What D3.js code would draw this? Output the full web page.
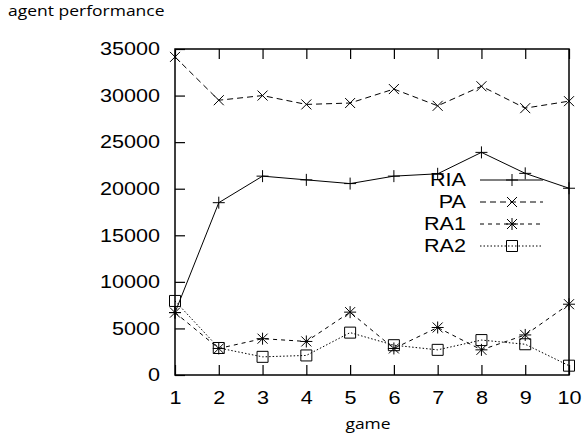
<!DOCTYPE html>
<html>
<head>
<meta charset="utf-8">
<script src="https://cdn.jsdelivr.net/npm/d3@7"></script>
<style>
  body { margin: 0; background: #fff; }
  svg { display: block; }
</style>
</head>
<body>
<div id="chart"></div>
<script>
// data
var games = [1, 2, 3, 4, 5, 6, 7, 8, 9, 10];
var ria = [6700, 18500, 21350, 20950, 20550, 21350, 21600, 23900, 21650, 20050];
var pa  = [34150, 29500, 30000, 29050, 29200, 30700, 28900, 31000, 28650, 29400];
var ra1 = [6700, 2850, 3900, 3600, 6750, 2850, 5100, 2700, 4300, 7600];
var ra2 = [7950, 2900, 1950, 2100, 4550, 3200, 2700, 3750, 3300, 1000];
var seriesNames = ["RIA", "PA", "RA1", "RA2"];
var yTicks = [0, 5000, 10000, 15000, 20000, 25000, 30000, 35000];

var width = 584, height = 436;
var margin = {top: 49, right: 15, bottom: 61, left: 175};
var stretch = "scale(1.2,1)";   // gnuplot text looks wider than the font

var svg = d3.select("#chart").append("svg")
    .attr("width", width)
    .attr("height", height);

var x = d3.scaleLinear()
    .domain([1, 10])
    .range([margin.left, width - margin.right]);
var y = d3.scaleLinear()
    .domain([0, 35000])
    .range([height - margin.bottom, margin.top]);

//markers, all drawn round 0,0
function marker(kind) {
  var p = d3.path();
  if (kind == "plus" || kind == "star") {
    p.moveTo(-6, 0); p.lineTo(6, 0);
    p.moveTo(0, -6); p.lineTo(0, 6);
  }
  if (kind == "cross" || kind == "star") {
    p.moveTo(-5, -5); p.lineTo(5, 5);
    p.moveTo(-5, 5); p.lineTo(5, -5);
  }
  if (kind == "square") {
    p.rect(-5.5, -5.5, 11, 11);
  }
  return p.toString();
}

var series = [
  {name: seriesNames[0], values: ria, dash: null, mark: "plus"},
  {name: seriesNames[1], values: pa, dash: "6,4", mark: "cross"},
  {name: seriesNames[2], values: ra1, dash: "4,4", mark: "star"},
  {name: seriesNames[3], values: ra2, dash: "1.5,2", mark: "square"}
];

//axes, ticks point inwards
var gLeft = svg.append("g")
    .attr("transform", "translate(" + margin.left + ",0)")
    .call(d3.axisLeft(y).tickValues(yTicks).tickFormat(d3.format("d"))
      .tickSizeInner(-10).tickSizeOuter(0));
gLeft.selectAll("text")
    .attr("x", -12.5)
    .attr("transform", stretch);

var gBottom = svg.append("g")
    .attr("transform", "translate(0," + y(0) + ")")
    .call(d3.axisBottom(x).tickValues(games).tickFormat(d3.format("d"))
      .tickSizeInner(-10).tickSizeOuter(0));
gBottom.selectAll("text")
    .attr("y", 29)
    .attr("dy", 0)
    .attr("transform", stretch);

var gTop = svg.append("g")
    .attr("transform", "translate(0," + y(35000) + ")")
    .call(d3.axisTop(x).tickValues(games).tickSizeInner(-10).tickSizeOuter(0).tickFormat(""));

svg.selectAll(".domain").remove();
svg.selectAll(".tick line").attr("stroke", "#000").attr("stroke-width", 1.2);
svg.selectAll(".tick text")
    .attr("fill", "#000")
    .style("font-family", "'Liberation Sans', Arial, sans-serif")
    .style("font-size", "18px");

//frame
svg.append("rect")
    .attr("x", x(1))
    .attr("y", y(35000))
    .attr("width", x(10) - x(1))
    .attr("height", y(0) - y(35000))
    .attr("fill", "none")
    .attr("stroke", "#000")
    .attr("stroke-width", 1.5);

//lines and markers
var line = d3.line()
    .x(function(d, i) { return x(games[i]); })
    .y(function(d) { return y(d); });

series.forEach(function(s) {
  svg.append("path")
    .datum(s.values)
    .attr("d", line)
    .attr("fill", "none")
    .attr("stroke", "#000")
    .attr("stroke-width", 1)
    .attr("stroke-dasharray", s.dash);

  svg.selectAll(".m-" + s.name)
    .data(s.values)
    .enter().append("path")
    .attr("class", "m-" + s.name)
    .attr("transform", function(d, i) { return "translate(" + x(games[i]) + "," + y(d) + ")"; })
    .attr("d", marker(s.mark))
    .attr("fill", "none")
    .attr("stroke", "#000")
    .attr("stroke-width", 1);
});

//legend
var legend = svg.append("g");
series.forEach(function(s, i) {
  var ly = 180 + i * 22;
  legend.append("text")
    .attr("transform", "translate(466," + ly + ") " + stretch)
    .attr("dy", "0.36em")
    .attr("text-anchor", "end")
    .style("font-family", "'Liberation Sans', Arial, sans-serif")
    .style("font-size", "18px")
    .text(s.name);
  legend.append("line")
    .attr("x1", 480).attr("x2", 543)
    .attr("y1", ly).attr("y2", ly)
    .attr("stroke", "#000")
    .attr("stroke-width", 1)
    .attr("stroke-dasharray", s.dash);
  legend.append("path")
    .attr("transform", "translate(512," + ly + ")")
    .attr("d", marker(s.mark))
    .attr("fill", "none")
    .attr("stroke", "#000")
    .attr("stroke-width", 1);
});

//titles
svg.append("text")
    .attr("transform", "translate(8,16) scale(1.25,1)")
    .style("font-family", "'Open Sans', sans-serif")
    .style("font-size", "14px")
    .text("agent performance");

svg.append("text")
    .attr("transform", "translate(368,429) scale(1.25,1)")
    .attr("text-anchor", "middle")
    .style("font-family", "'Open Sans', sans-serif")
    .style("font-size", "14px")
    .text("game");
</script>
</body>
</html>
